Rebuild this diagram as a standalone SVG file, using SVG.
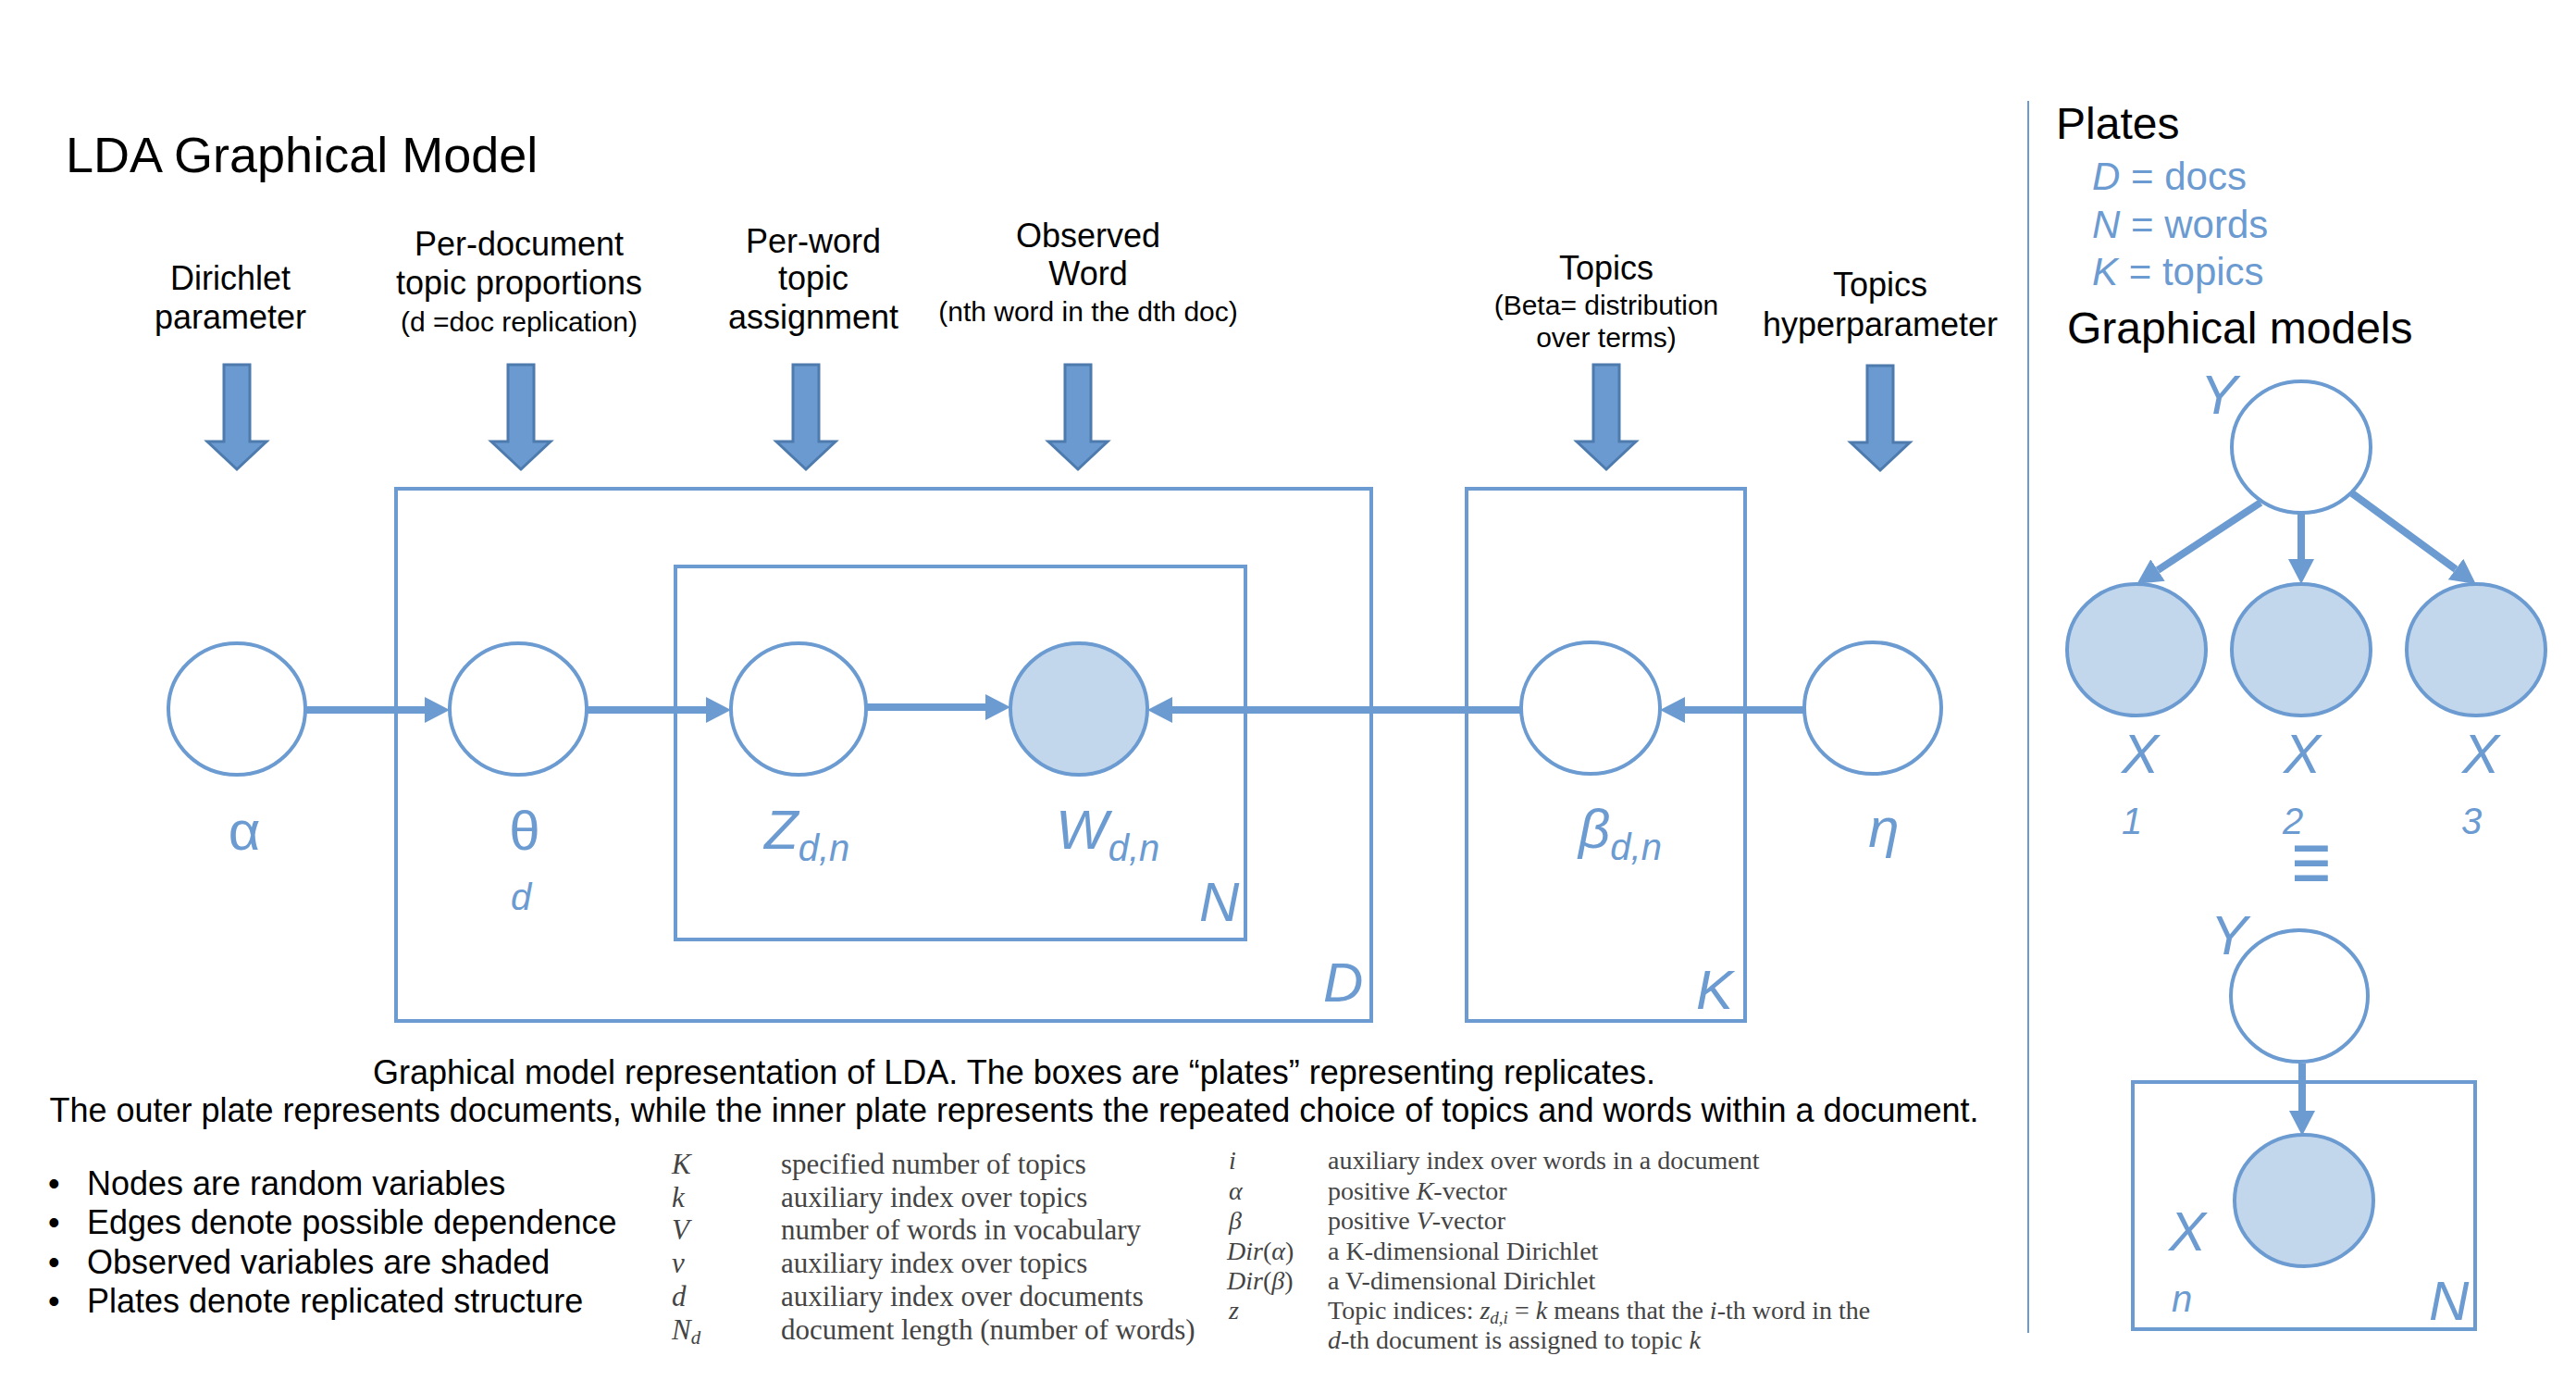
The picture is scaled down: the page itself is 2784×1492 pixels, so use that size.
<svg xmlns="http://www.w3.org/2000/svg" width="2784" height="1492" viewBox="0 0 2784 1492">
<style>
.t{font-family:"Liberation Sans",Arial,sans-serif;fill:#000}
.lab{font-family:"Liberation Sans",Arial,sans-serif;font-size:36px;fill:#000;text-anchor:middle}
.sub{font-size:30px}
.bl{font-family:"Liberation Sans",Arial,sans-serif;fill:#6B9BD1}
.it{font-style:italic}
.node{fill:#fff;stroke:#6B9BD1;stroke-width:4}
.obs{fill:#C3D7EC;stroke:#6B9BD1;stroke-width:4}
.plate{fill:none;stroke:#6B9BD1;stroke-width:4}
.edge{stroke:#6B9BD1;stroke-width:8;fill:none}
.barrow{fill:#6A9AD0;stroke:#4E7BAE;stroke-width:3}
.tab{font-family:"Liberation Serif","Times New Roman",serif;fill:#444}
</style>
<defs>
<marker id="ah" markerUnits="userSpaceOnUse" markerWidth="27" markerHeight="28" viewBox="0 0 27 28" refX="0" refY="14" orient="auto">
<path d="M0,0 L27,14 L0,28 Z" fill="#6B9BD1"/>
</marker>
</defs>
<rect width="2784" height="1492" fill="#fff"/>

<text class="t" x="71" y="186" font-size="54">LDA Graphical Model</text>

<g id="annotations">
<text class="lab" x="249" y="313">Dirichlet</text>
<text class="lab" x="249" y="355">parameter</text>
<text class="lab" x="561" y="276">Per-document</text>
<text class="lab" x="561" y="318">topic proportions</text>
<text class="lab sub" x="561" y="358">(d =doc replication)</text>
<text class="lab" x="879" y="273">Per-word</text>
<text class="lab" x="879" y="313">topic</text>
<text class="lab" x="879" y="355">assignment</text>
<text class="lab" x="1176" y="267">Observed</text>
<text class="lab" x="1176" y="308">Word</text>
<text class="lab sub" x="1176" y="347">(nth word in the dth doc)</text>
<text class="lab" x="1736" y="302">Topics</text>
<text class="lab sub" x="1736" y="340">(Beta= distribution</text>
<text class="lab sub" x="1736" y="375">over terms)</text>
<text class="lab" x="2032" y="320">Topics</text>
<text class="lab" x="2032" y="363">hyperparameter</text>
</g>

<g id="block-arrows">
<path class="barrow" d="M242,394 H270 V477 H288 L256,507 L224,477 H242 Z"/>
<path class="barrow" d="M549,394 H577 V477 H595 L563,507 L531,477 H549 Z"/>
<path class="barrow" d="M857,394 H885 V477 H903 L871,507 L839,477 H857 Z"/>
<path class="barrow" d="M1151,394 H1179 V477 H1197 L1165,507 L1133,477 H1151 Z"/>
<path class="barrow" d="M1722,394 H1750 V477 H1768 L1736,507 L1704,477 H1722 Z"/>
<path class="barrow" d="M2018,395 H2046 V478 H2064 L2032,508 L2000,478 H2018 Z"/>
</g>

<g id="plates">
<rect id="plate-D" class="plate" x="428" y="528" width="1054" height="575"/>
<rect id="plate-N" class="plate" x="730" y="612" width="616" height="403"/>
<rect id="plate-K" class="plate" x="1585" y="528" width="301" height="575"/>
<text class="bl it" x="1296" y="995" font-size="60">N</text>
<text class="bl it" x="1430" y="1082" font-size="60">D</text>
<text class="bl it" x="1833" y="1090" font-size="60">K</text>
</g>

<g id="connectors">
<line class="edge" x1="330" y1="767" x2="459" y2="767" marker-end="url(#ah)"/>
<line class="edge" x1="634" y1="767" x2="763" y2="767" marker-end="url(#ah)"/>
<line class="edge" x1="937" y1="764" x2="1065" y2="764" marker-end="url(#ah)"/>
<line class="edge" x1="1644" y1="767" x2="1267" y2="767" marker-end="url(#ah)"/>
<line class="edge" x1="1950" y1="767" x2="1821" y2="767" marker-end="url(#ah)"/>
<line class="edge" x1="2443" y1="543" x2="2332" y2="616" marker-end="url(#ah)"/>
<line class="edge" x1="2487" y1="554" x2="2487" y2="604" marker-end="url(#ah)"/>
<line class="edge" x1="2542" y1="533" x2="2654" y2="615" marker-end="url(#ah)"/>
<line class="edge" x1="2488" y1="1149" x2="2488" y2="1200" marker-end="url(#ah)"/>
</g>

<g id="node-alpha">
<ellipse class="node" cx="256" cy="766" rx="74" ry="71"/>
<text class="bl" x="264" y="918" font-size="60" text-anchor="middle">α</text>
</g>
<g id="node-theta">
<ellipse class="node" cx="560" cy="766" rx="74" ry="71"/>
<text class="bl" x="567" y="918" font-size="60" text-anchor="middle">θ</text>
<text class="bl it" x="563" y="983" font-size="40" text-anchor="middle">d</text>
</g>
<g id="node-z">
<ellipse class="node" cx="863" cy="766" rx="73" ry="71"/>
<text class="bl it" x="826" y="917" font-size="60">Z<tspan font-size="40" dy="13">d,n</tspan></text>
</g>
<g id="node-w">
<ellipse class="obs" cx="1166" cy="766" rx="74" ry="71"/>
<text class="bl it" x="1141" y="917" font-size="60">W<tspan font-size="40" dy="13">d,n</tspan></text>
</g>
<g id="node-beta">
<ellipse class="node" cx="1719" cy="765" rx="75" ry="71"/>
<text class="bl it" x="1706" y="916" font-size="60">β<tspan font-size="40" dy="13">d,n</tspan></text>
</g>
<g id="node-eta">
<ellipse class="node" cx="2024" cy="765" rx="74" ry="71"/>
<text class="bl it" x="2036" y="915" font-size="60" text-anchor="middle">η</text>
</g>

<g id="caption">
<text class="t" x="1096" y="1171" font-size="36" text-anchor="middle">Graphical model representation of LDA. The boxes are “plates” representing replicates.</text>
<text class="t" x="1096" y="1212" font-size="36" text-anchor="middle">The outer plate represents documents, while the inner plate represents the repeated choice of topics and words within a document.</text>
</g>

<g id="bullets" class="t" font-size="36">
<text x="52" y="1291">•</text><text x="94" y="1291">Nodes are random variables</text>
<text x="52" y="1333">•</text><text x="94" y="1333">Edges denote possible dependence</text>
<text x="52" y="1376">•</text><text x="94" y="1376">Observed variables are shaded</text>
<text x="52" y="1418">•</text><text x="94" y="1418">Plates denote replicated structure</text>
</g>

<g id="table-left" class="tab" font-size="31">
<text x="726" y="1268" font-style="italic">K</text><text x="844" y="1268">specified number of topics</text>
<text x="726" y="1304" font-style="italic">k</text><text x="844" y="1304">auxiliary index over topics</text>
<text x="726" y="1339" font-style="italic">V</text><text x="844" y="1339">number of words in vocabulary</text>
<text x="726" y="1375" font-style="italic">v</text><text x="844" y="1375">auxiliary index over topics</text>
<text x="726" y="1411" font-style="italic">d</text><text x="844" y="1411">auxiliary index over documents</text>
<text x="726" y="1447" font-style="italic">N<tspan font-size="21" dy="5">d</tspan></text><text x="844" y="1447">document length (number of words)</text>
</g>

<g id="table-right" class="tab" font-size="28">
<text x="1328" y="1263" font-style="italic">i</text><text x="1435" y="1263">auxiliary index over words in a document</text>
<text x="1328" y="1296" font-style="italic">α</text><text x="1435" y="1296">positive <tspan font-style="italic">K</tspan>-vector</text>
<text x="1328" y="1328" font-style="italic">β</text><text x="1435" y="1328">positive <tspan font-style="italic">V</tspan>-vector</text>
<text x="1326" y="1361"><tspan font-style="italic">Dir</tspan>(<tspan font-style="italic">α</tspan>)</text><text x="1435" y="1361">a K-dimensional Dirichlet</text>
<text x="1326" y="1393"><tspan font-style="italic">Dir</tspan>(<tspan font-style="italic">β</tspan>)</text><text x="1435" y="1393">a V-dimensional Dirichlet</text>
<text x="1328" y="1425" font-style="italic">z</text><text x="1435" y="1425">Topic indices:  <tspan font-style="italic">z</tspan><tspan font-size="19" dy="5" font-style="italic">d,i</tspan><tspan dy="-5"> = </tspan><tspan font-style="italic">k</tspan> means that the <tspan font-style="italic">i</tspan>-th word in the</text>
<text x="1435" y="1457"><tspan font-style="italic">d</tspan>-th document is assigned to topic <tspan font-style="italic">k</tspan></text>
</g>

<line x1="2192" y1="109" x2="2192" y2="1440" stroke="#6B9BD1" stroke-width="2"/>

<g id="legend">
<text class="t" x="2222" y="150" font-size="48">Plates</text>
<text class="bl" x="2261" y="205" font-size="42"><tspan font-style="italic">D</tspan> = docs</text>
<text class="bl" x="2261" y="257" font-size="42"><tspan font-style="italic">N</tspan> = words</text>
<text class="bl" x="2261" y="308" font-size="42"><tspan font-style="italic">K</tspan> = topics</text>
<text class="t" x="2234" y="371" font-size="48">Graphical models</text>
</g>

<g id="node-Y-top">
<ellipse class="node" cx="2487" cy="483" rx="75" ry="71"/>
<text class="bl it" x="2378" y="447" font-size="60">Y</text>
</g>
<g id="node-X1">
<ellipse class="obs" cx="2309" cy="702" rx="75" ry="71"/>
<text class="bl it" x="2313" y="835" font-size="60" text-anchor="middle">X</text>
<text class="bl it" x="2304" y="901" font-size="40" text-anchor="middle">1</text>
</g>
<g id="node-X2">
<ellipse class="obs" cx="2487" cy="702" rx="75" ry="71"/>
<text class="bl it" x="2488" y="835" font-size="60" text-anchor="middle">X</text>
<text class="bl it" x="2478" y="901" font-size="40" text-anchor="middle">2</text>
</g>
<g id="node-X3">
<ellipse class="obs" cx="2676" cy="702" rx="75" ry="71"/>
<text class="bl it" x="2681" y="835" font-size="60" text-anchor="middle">X</text>
<text class="bl it" x="2671" y="901" font-size="40" text-anchor="middle">3</text>
</g>
<text class="bl" transform="translate(2498,963) scale(0.8,1)" x="0" y="0" font-size="92" font-weight="bold" text-anchor="middle" font-family="DejaVu Sans, sans-serif">≡</text>

<g id="node-Y-bottom">
<ellipse class="node" cx="2485" cy="1076" rx="74" ry="71"/>
<text class="bl it" x="2389" y="1031" font-size="60">Y</text>
</g>
<g id="plate-N-right">
<rect class="plate" x="2305" y="1169" width="370" height="267"/>
<text class="bl it" x="2625" y="1426" font-size="60">N</text>
</g>
<g id="node-X-bottom">
<ellipse class="obs" cx="2490" cy="1297" rx="75" ry="71"/>
<text class="bl it" x="2344" y="1351" font-size="60">X</text>
<text class="bl it" x="2347" y="1417" font-size="40">n</text>
</g>
</svg>
